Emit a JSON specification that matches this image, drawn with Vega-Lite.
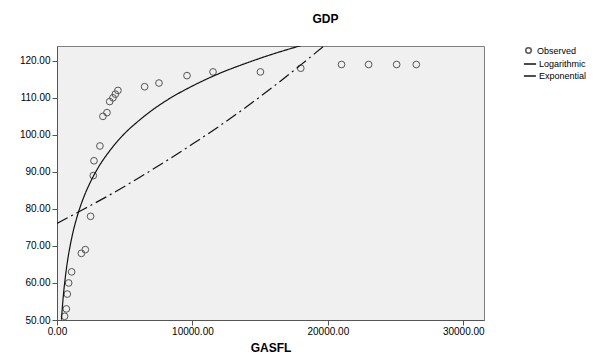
{
  "$schema": "https://vega.github.io/schema/vega-lite/v6.json",
  "width": 427,
  "height": 274,
  "autosize": "none",
  "padding": {"left": 57, "top": 46, "right": 123, "bottom": 38},
  "background": "white",
  "title": {"text": "GDP", "fontSize": 12, "fontWeight": "bold", "font": "Liberation Sans", "dx": 55, "offset": 20, "color": "#000"},
  "config": {
    "font": "Liberation Sans",
    "view": {"fill": "#f0f0f0", "stroke": "#808080", "strokeWidth": 1},
    "axis": {"grid": false, "domainColor": "#555", "tickColor": "#555", "labelColor": "#000", "labelFontSize": 10, "labelFont": "Liberation Sans", "titleFont": "Liberation Sans", "titleColor": "#000", "labelOverlap": false, "labelFlush": false}
  },
  "encoding": {
    "x": {"field": "x", "type": "quantitative", "scale": {"domain": [0, 31530], "nice": false, "zero": false},
          "axis": {"values": [0, 10000, 20000, 30000], "format": ".2f", "title": "GASFL", "titleFontSize": 12, "titleFontWeight": "bold", "titlePadding": 6, "tickSize": 5, "labelPadding": 1}},
    "y": {"field": "y", "type": "quantitative", "scale": {"domain": [50, 124], "nice": false, "zero": false},
          "axis": {"values": [50, 60, 70, 80, 90, 100, 110, 120], "format": ".2f", "title": null, "tickSize": 5, "labelPadding": 2}}
  },
  "layer": [
    {
      "data": {"values": [
        {"x": 560, "y": 51}, {"x": 690, "y": 53}, {"x": 760, "y": 57}, {"x": 860, "y": 60}, {"x": 1080, "y": 63},
        {"x": 1800, "y": 68}, {"x": 2090, "y": 69}, {"x": 2480, "y": 78}, {"x": 2680, "y": 89}, {"x": 2730, "y": 93},
        {"x": 3170, "y": 97}, {"x": 3390, "y": 105}, {"x": 3690, "y": 106}, {"x": 3890, "y": 109}, {"x": 4130, "y": 110},
        {"x": 4310, "y": 111}, {"x": 4500, "y": 112}, {"x": 6470, "y": 113}, {"x": 7530, "y": 114}, {"x": 9600, "y": 116},
        {"x": 11520, "y": 117}, {"x": 15020, "y": 117}, {"x": 18000, "y": 118}, {"x": 21010, "y": 119}, {"x": 23010, "y": 119},
        {"x": 25080, "y": 119}, {"x": 26530, "y": 119}
      ]},
      "mark": {"type": "point", "filled": false, "stroke": "#555", "strokeWidth": 1, "size": 45, "opacity": 1},
      "encoding": {
        "shape": {"datum": "Observed", "type": "nominal", "scale": {"range": ["circle"]},
                  "legend": {"orient": "none", "legendX": 467, "legendY": 0, "title": null, "labelFontSize": 9, "symbolSize": 30, "symbolStrokeColor": "#555", "symbolFillColor": "transparent", "padding": 0, "labelOffset": 4, "symbolOffset": 0}}
      }
    },
    {
      "data": {"values": [
        {"x": 330, "y": 50.1, "s": "Logarithmic"}, {"x": 400, "y": 53.6, "s": "Logarithmic"}, {"x": 500, "y": 57.8, "s": "Logarithmic"},
        {"x": 600, "y": 61.1, "s": "Logarithmic"}, {"x": 700, "y": 64.0, "s": "Logarithmic"}, {"x": 800, "y": 66.5, "s": "Logarithmic"},
        {"x": 1000, "y": 70.6, "s": "Logarithmic"}, {"x": 1200, "y": 74.0, "s": "Logarithmic"}, {"x": 1500, "y": 78.1, "s": "Logarithmic"},
        {"x": 2000, "y": 83.4, "s": "Logarithmic"}, {"x": 2500, "y": 87.5, "s": "Logarithmic"}, {"x": 3000, "y": 90.9, "s": "Logarithmic"},
        {"x": 4000, "y": 96.2, "s": "Logarithmic"}, {"x": 5000, "y": 100.4, "s": "Logarithmic"}, {"x": 6000, "y": 103.7, "s": "Logarithmic"},
        {"x": 7000, "y": 106.6, "s": "Logarithmic"}, {"x": 8000, "y": 109.1, "s": "Logarithmic"}, {"x": 10000, "y": 113.2, "s": "Logarithmic"},
        {"x": 12000, "y": 116.6, "s": "Logarithmic"}, {"x": 14000, "y": 119.4, "s": "Logarithmic"}, {"x": 16000, "y": 121.9, "s": "Logarithmic"},
        {"x": 18000, "y": 124.1, "s": "Logarithmic"},
        {"x": 0, "y": 76.1, "s": "Exponential"}, {"x": 2000, "y": 80.0, "s": "Exponential"}, {"x": 4000, "y": 84.0, "s": "Exponential"},
        {"x": 6000, "y": 88.3, "s": "Exponential"}, {"x": 8000, "y": 92.8, "s": "Exponential"}, {"x": 10000, "y": 97.5, "s": "Exponential"},
        {"x": 12000, "y": 102.4, "s": "Exponential"}, {"x": 14000, "y": 107.6, "s": "Exponential"}, {"x": 16000, "y": 113.1, "s": "Exponential"},
        {"x": 18000, "y": 118.9, "s": "Exponential"}, {"x": 20000, "y": 124.9, "s": "Exponential"}
      ]},
      "mark": {"type": "line", "color": "#111", "strokeWidth": 1.2, "clip": true, "interpolate": "monotone"},
      "encoding": {
        "strokeDash": {"field": "s", "type": "nominal", "sort": ["Logarithmic", "Exponential"],
                       "scale": {"domain": ["Logarithmic", "Exponential"], "range": [[1, 0], [12, 4, 2, 4]]},
                       "legend": {"orient": "none", "legendX": 466, "legendY": 11, "title": null, "labelFontSize": 9, "symbolType": "stroke", "symbolSize": 150, "symbolStrokeColor": "#111", "symbolDash": [1, 0], "padding": 0, "labelOffset": 2, "rowPadding": -2}}
      }
    }
  ]
}
